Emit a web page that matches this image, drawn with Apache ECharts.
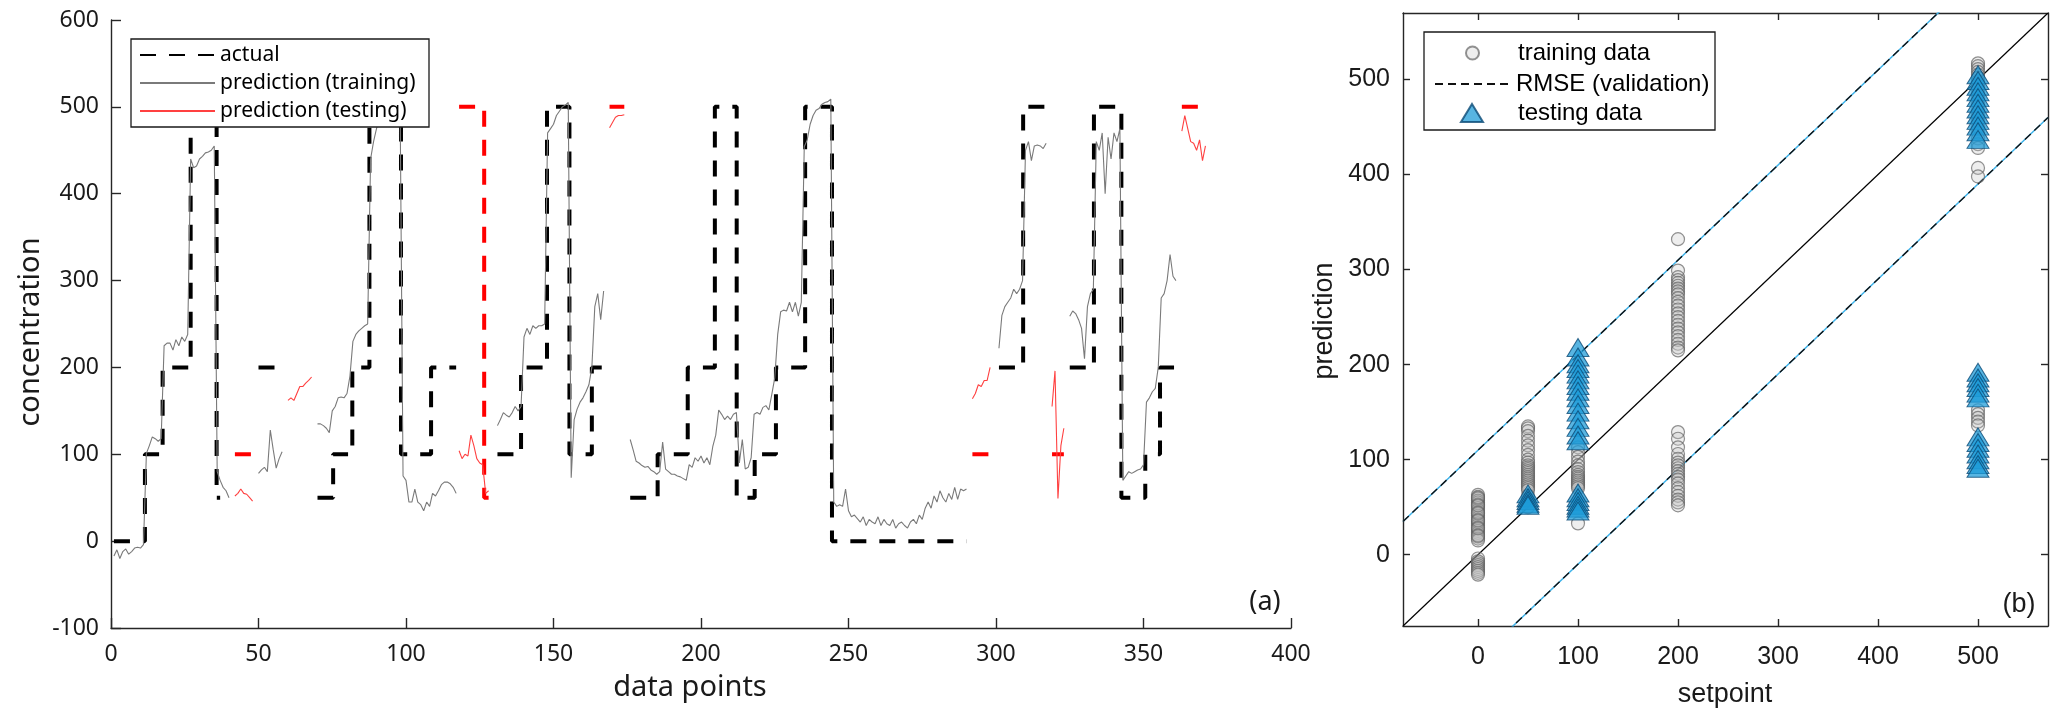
<!DOCTYPE html>
<html>
<head>
<meta charset="utf-8">
<title>concentration prediction</title>
<script src="https://cdn.jsdelivr.net/npm/echarts@6.0.0/dist/echarts.min.js"></script>
<style>
  html, body { margin: 0; padding: 0; background: #fff; }
  #main { width: 2067px; height: 718px; }
</style>
</head>
<body>
<div id="main"></div>
<script>
/*************** (a) time series data ***************/
// prediction on training data: [start index, values...]
var predTrainSegs = [
    [1, [-17, -10, -20, -12, -9, -15, -12, -8, -7, -8, -4, 101, 110, 120, 118, 115, 118, 225, 228, 228, 220, 232, 225, 235, 230, 238,
         440, 430, 432, 440, 443, 447, 448, 450, 455, 80, 70, 62, 58, 50]],
    [50, [78, 82, 85, 80, 128, 105, 84, 95, 103]],
    [70, [135, 135, 133, 130, 125, 150, 155, 165, 166, 165, 170, 190, 230, 238, 242, 245, 248, 250, 440, 460, 475, 485, 490, 495,
          498, 500, 502, 503, 505, 75, 70, 45, 45, 60, 45, 42, 35, 45, 40, 55, 52, 58, 65, 68, 68, 66, 62, 55]],
    [131, [133, 140, 148, 145, 143, 148, 155, 150, 155, 235, 245, 238, 248, 245, 248, 248, 250, 470, 475, 480, 490, 495, 500, 502,
           505, 73, 140, 152, 160, 165, 172, 180, 200, 270, 285, 255, 288]],
    [176, [117, 105, 92, 90, 87, 85, 86, 82, 80, 77, 80, 114, 83, 80, 77, 77, 75, 74, 72, 70, 88, 85, 96, 92, 98, 90, 96, 88, 109,
           122, 151, 146, 140, 144, 140, 146, 148, 90, 117, 83, 85, 96, 146, 148, 146, 154, 156, 151, 169, 188, 238, 264, 266, 265,
           275, 264, 275, 259, 275, 454, 462, 480, 490, 496, 498, 503, 505, 506, 509, 45, 40, 42, 40, 60, 35, 28, 30, 26, 22, 28, 18,
           25, 22, 20, 28, 18, 25, 20, 18, 25, 15, 20, 22, 18, 15, 22, 25, 20, 30, 25, 38, 45, 38, 52, 45, 58, 50, 45, 55, 48, 62,
           48, 60, 58, 60]],
    [301, [222, 260, 270, 275, 280, 290, 285, 290, 300, 450, 460, 438, 455, 456, 455, 452, 458]],
    [325, [259, 265, 262, 255, 245, 210, 270, 285, 290, 460, 450, 470, 400, 465, 440, 470, 460, 475, 70, 75, 80, 78, 80, 82, 83,
           88, 160, 165, 172, 176, 200, 280, 285, 300, 330, 305, 300]]
];

// prediction on testing data
var predTestSegs = [
    [42, [52, 55, 60, 55, 54, 50, 46]],
    [60, [162, 165, 162, 170, 178, 178, 182, 185, 189]],
    [118, [104, 95, 100, 98, 122, 110, 95, 90, 88, 55, 58]],
    [169, [476, 482, 488, 490, 490, 491]],
    [292, [164, 170, 180, 178, 185, 185, 200]],
    [319, [155, 196, 49, 110, 130]],
    [363, [472, 490, 475, 460, 458, 450, 462, 438, 455]]
];

// actual setpoint (step vertices: [data point, concentration])
var actualTrainPaths = [
    [[1, 0], [11.5, 0], [11.5, 100], [17.5, 100], [17.5, 200], [27, 200], [27, 500], [35.8, 500], [35.8, 50], [37, 50]],
    [[50, 200], [58, 200]],
    [[70, 50], [75.3, 50], [75.3, 100], [81.8, 100], [81.8, 200], [87.6, 200], [87.6, 500], [98.3, 500], [98.3, 100],
     [108.5, 100], [108.5, 200], [117, 200]],
    [[131, 100], [139, 100], [139, 200], [147.8, 200], [147.8, 500], [155.4, 500], [155.4, 100], [163, 100], [163, 200], [167, 200]],
    [[176, 50], [185.3, 50], [185.3, 100], [195.5, 100], [195.5, 200], [204.7, 200], [204.7, 500], [212.1, 500], [212.1, 50],
     [218.2, 50], [218.2, 100], [225.4, 100], [225.4, 200], [235.3, 200], [235.3, 500], [244.4, 500], [244.4, 0], [290, 0]],
    [[301, 200], [309.2, 200], [309.2, 500], [317, 500]],
    [[325, 200], [333.2, 200], [333.2, 500], [342.5, 500], [342.5, 50], [350.6, 50], [350.6, 100], [355.6, 100], [355.6, 200], [362, 200]]
];
var actualTestPaths = [
    [[42, 100], [48, 100]],
    [[118, 500], [126.5, 500], [126.5, 50], [128, 50]],
    [[169, 500], [174, 500]],
    [[292, 100], [298, 100]],
    [[319, 100], [323, 100]],
    [[363, 500], [371, 500]]
];

/*************** (b) setpoint vs prediction ***************/
var trainAt0 = [63, 61, 59, 57, 55, 53, 51, 49, 47, 45, 43, 41, 39, 37, 35, 33, 31, 29, 27, 25, 23, 21, 19, 17, 15, 60, 52, 44,
                36, 28, 20, -4, -7, -9, -11, -13, -15, -17, -19, -21];
var trainAt50 = [135, 133, 130, 125, 120, 115, 110, 105, 100, 97, 94, 92, 90, 88, 86, 84, 82, 80, 78, 76, 74, 72, 70, 68, 62, 58, 55, 50];
var trainAt100 = [113, 108, 103, 98, 94, 90, 87, 84, 82, 80, 78, 76, 74, 72, 70, 33];
var trainAt200 = [332, 299, 292, 289, 286, 283, 280, 277, 274, 270, 266, 262, 258, 254, 250, 246, 242, 238, 234, 230, 226, 222, 218,
                  215, 129, 122, 113, 106, 101, 97, 94, 91, 88, 85, 82, 79, 75, 70, 66, 62, 58, 55, 52];
var trainAt500 = [517, 514, 511, 508, 505, 502, 498, 494, 490, 485, 480, 474, 468, 462, 456, 450, 444, 438, 432, 428, 407, 398,
                  152, 148, 144, 140, 136];
var testAt50 = [64, 60, 57, 54, 52];
var testAt100 = [218, 208, 201, 196, 190, 184, 178, 172, 165, 158, 150, 142, 134, 126, 120, 65, 60, 56, 52, 49, 46];
var testAt500 = [505, 499, 493, 487, 481, 475, 469, 463, 457, 451, 445, 437, 192, 186, 181, 176, 170, 165, 124, 118, 112, 106,
                 100, 95, 91];
var rmseValidation = 110;
var setpointRange = [-75, 570];
var setpointTicks = [0, 100, 200, 300, 400, 500];

/*************** helpers ***************/
function segPoints(segs) {
    var pts = [];
    segs.forEach(function(seg, k) {
        if (k > 0) pts.push([null, null]);
        seg[1].forEach(function(v, i) { pts.push([seg[0] + i, v]); });
    });
    return pts;
}
function joinPaths(paths) {
    var pts = [];
    paths.forEach(function(p, k) {
        if (k > 0) pts.push([null, null]);
        pts = pts.concat(p);
    });
    return pts;
}
function columnPoints(cols) {
    var pts = [];
    cols.forEach(function(c) {
        c[1].forEach(function(v) { pts.push([c[0], v]); });
    });
    return pts;
}

var lo = setpointRange[0], hi = setpointRange[1];
var diagLine = [[lo, lo], [hi, hi]];
var rmseLines = [[lo, lo + rmseValidation], [hi, hi + rmseValidation], [null, null],
                 [lo, lo - rmseValidation], [hi, hi - rmseValidation]];

var leftFont = '"Noto Sans", "DejaVu Sans", sans-serif';
var rightFont = '"Liberation Sans", Arial, sans-serif';
var axisColor = '#262626';
// line legends: hide the marker dot ECharts adds in the middle of the line sample
var noDot = { color: 'rgba(0,0,0,0)', borderColor: 'rgba(0,0,0,0)', borderWidth: 0, opacity: 0 };

function valAxis(grid, pos, extra) {
    var a = {
        type: 'value',
        gridIndex: grid,
        position: pos,
        axisLine: { show: true, onZero: false, lineStyle: { color: axisColor, width: 1.4 } },
        axisTick: { show: true, inside: true, length: 10, lineStyle: { color: axisColor, width: 1.4 } },
        splitLine: { show: false },
        axisLabel: { color: '#1a1a1a', fontSize: 23, fontFamily: leftFont, margin: 12 }
    };
    for (var k in extra) a[k] = extra[k];
    return a;
}
function rightTick() {
    return { show: true, inside: true, length: 7, customValues: setpointTicks, lineStyle: { color: axisColor, width: 1.4 } };
}

var myChart = echarts.init(document.getElementById('main'));

var option = {
    animation: false,
    backgroundColor: '#fff',
    grid: [
        { left: 111, top: 20, width: 1180, height: 608 },
        { left: 1403, top: 13, width: 645, height: 613 }
    ],
    xAxis: [
        valAxis(0, 'bottom', { min: 0, max: 400, interval: 50,
            axisLabel: { color: '#1a1a1a', fontSize: 23, fontFamily: leftFont, margin: 15 } }),
        valAxis(1, 'bottom', { min: lo, max: hi, axisTick: rightTick(),
            axisLabel: { color: '#1a1a1a', fontSize: 25, fontFamily: rightFont, margin: 19, customValues: setpointTicks } }),
        valAxis(1, 'top', { min: lo, max: hi, axisTick: rightTick(), axisLabel: { show: false } })
    ],
    yAxis: [
        valAxis(0, 'left', { min: -100, max: 600, interval: 100 }),
        valAxis(1, 'left', { min: lo, max: hi, axisTick: rightTick(),
            axisLabel: { color: '#1a1a1a', fontSize: 25, fontFamily: rightFont, margin: 13, customValues: setpointTicks } }),
        valAxis(1, 'right', { min: lo, max: hi, axisTick: rightTick(), axisLabel: { show: false } })
    ],
    legend: [
        {
            orient: 'vertical', left: 139, top: 42, padding: 0, itemGap: 2,
            itemWidth: 75, itemHeight: 14, z: 10, itemStyle: noDot,
            data: ['actual', 'prediction (training)', 'prediction (testing)'],
            textStyle: { fontSize: 21, fontFamily: leftFont, color: '#000', lineHeight: 26 }
        },
        {
            left: 1465, top: 40, padding: 0, itemWidth: 13, itemHeight: 13, z: 10,
            data: ['training data'],
            textStyle: { fontSize: 24, fontFamily: rightFont, color: '#000', lineHeight: 26, padding: [0, 0, 0, 34] }
        },
        {
            left: 1434, top: 71, padding: 0, itemWidth: 76, itemHeight: 14, z: 10, itemStyle: noDot,
            data: ['RMSE (validation)'],
            textStyle: { fontSize: 24, fontFamily: rightFont, color: '#000', lineHeight: 26 }
        },
        {
            left: 1460, top: 100, padding: 0, itemWidth: 22, itemHeight: 18, z: 10,
            data: ['testing data'],
            textStyle: { fontSize: 24, fontFamily: rightFont, color: '#000', lineHeight: 26, padding: [0, 0, 0, 30] }
        }
    ],
    graphic: [
        { type: 'rect', z: 3, shape: { x: 131, y: 39, width: 298, height: 88 },
          style: { fill: '#fff', stroke: '#1a1a1a', lineWidth: 1.3 } },
        { type: 'rect', z: 3, shape: { x: 1424, y: 32, width: 291, height: 98 },
          style: { fill: '#fff', stroke: '#1a1a1a', lineWidth: 1.3 } },
        { type: 'text', z: 5, x: 31, y: 332, rotation: Math.PI / 2,
          style: { text: 'concentration', font: '29px ' + leftFont, fill: '#1a1a1a', textAlign: 'center', textVerticalAlign: 'middle' } },
        { type: 'text', z: 5, x: 690, y: 688,
          style: { text: 'data points', font: '29px ' + leftFont, fill: '#1a1a1a', textAlign: 'center', textVerticalAlign: 'middle' } },
        { type: 'text', z: 5, x: 1265, y: 602,
          style: { text: '(a)', font: '27px ' + leftFont, fill: '#1a1a1a', textAlign: 'center', textVerticalAlign: 'middle' } },
        { type: 'text', z: 5, x: 1325, y: 321, rotation: Math.PI / 2,
          style: { text: 'prediction', font: '27px ' + rightFont, fill: '#1a1a1a', textAlign: 'center', textVerticalAlign: 'middle' } },
        { type: 'text', z: 5, x: 1725, y: 695,
          style: { text: 'setpoint', font: '27px ' + rightFont, fill: '#1a1a1a', textAlign: 'center', textVerticalAlign: 'middle' } },
        { type: 'text', z: 5, x: 2019, y: 605,
          style: { text: '(b)', font: '27px ' + rightFont, fill: '#1a1a1a', textAlign: 'center', textVerticalAlign: 'middle' } }
    ],
    series: [
        {
            name: 'actual', type: 'line', xAxisIndex: 0, yAxisIndex: 0, z: 2,
            symbol: 'none', showSymbol: false, connectNulls: false,
            data: joinPaths(actualTrainPaths),
            itemStyle: { color: '#000' },
            lineStyle: { color: '#000', width: 4, type: [16, 13], cap: 'butt' }
        },
        {
            name: 'actual (testing)', type: 'line', xAxisIndex: 0, yAxisIndex: 0, z: 2,
            symbol: 'none', showSymbol: false, connectNulls: false,
            data: joinPaths(actualTestPaths),
            itemStyle: { color: '#ff0000' },
            lineStyle: { color: '#ff0000', width: 4, type: [16, 13], cap: 'butt' }
        },
        {
            name: 'prediction (training)', type: 'line', xAxisIndex: 0, yAxisIndex: 0, z: 2,
            symbol: 'none', showSymbol: false, connectNulls: false,
            data: segPoints(predTrainSegs),
            itemStyle: { color: '#7a7a7a' },
            lineStyle: { color: '#7a7a7a', width: 1.1 }
        },
        {
            name: 'prediction (testing)', type: 'line', xAxisIndex: 0, yAxisIndex: 0, z: 2,
            symbol: 'none', showSymbol: false, connectNulls: false,
            data: segPoints(predTestSegs),
            itemStyle: { color: '#ff4040' },
            lineStyle: { color: '#ff4040', width: 1.1 }
        },
        {
            name: 'ideal', type: 'line', xAxisIndex: 1, yAxisIndex: 1, z: 1,
            symbol: 'none', showSymbol: false, silent: true,
            data: diagLine,
            lineStyle: { color: '#000', width: 1.2 }
        },
        {
            name: 'rmse (under)', type: 'line', xAxisIndex: 1, yAxisIndex: 1, z: 1,
            symbol: 'none', showSymbol: false, silent: true, connectNulls: false,
            data: rmseLines,
            lineStyle: { color: '#3fb3ea', width: 1.5 }
        },
        {
            name: 'RMSE (validation)', type: 'line', xAxisIndex: 1, yAxisIndex: 1, z: 1,
            symbol: 'none', showSymbol: false, connectNulls: false,
            data: rmseLines,
            itemStyle: { color: '#000' },
            lineStyle: { color: '#111', width: 1.4, type: [8, 5] }
        },
        {
            name: 'training data', type: 'scatter', xAxisIndex: 1, yAxisIndex: 1, z: 2,
            symbol: 'circle', symbolSize: 13,
            data: columnPoints([[0, trainAt0], [50, trainAt50], [100, trainAt100], [200, trainAt200], [500, trainAt500]]),
            itemStyle: { color: 'rgba(195,195,195,0.35)', borderColor: 'rgba(95,95,95,0.85)', borderWidth: 1.2 }
        },
        {
            name: 'testing data', type: 'scatter', xAxisIndex: 1, yAxisIndex: 1, z: 2,
            symbol: 'triangle', symbolSize: [22, 18],
            data: columnPoints([[50, testAt50], [100, testAt100], [500, testAt500]]),
            itemStyle: { color: 'rgba(28,155,215,0.92)', borderColor: '#0b4a75', borderWidth: 1 }
        }
    ]
};

myChart.setOption(option);
</script>
</body>
</html>
